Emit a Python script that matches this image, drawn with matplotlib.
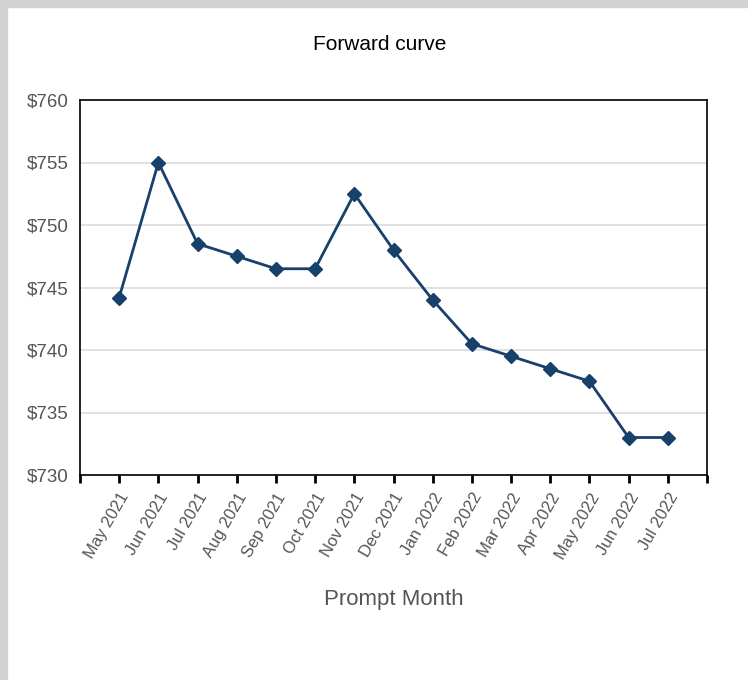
import matplotlib.pyplot as plt
from matplotlib.patches import Rectangle

plt.rcParams['font.family'] = ['Liberation Sans', 'DejaVu Sans']

# --- data ---
months = ['May 2021', 'Jun 2021', 'Jul 2021', 'Aug 2021', 'Sep 2021', 'Oct 2021',
          'Nov 2021', 'Dec 2021', 'Jan 2022', 'Feb 2022', 'Mar 2022', 'Apr 2022',
          'May 2022', 'Jun 2022', 'Jul 2022']
prices = [744.2, 755.0, 748.5, 747.5, 746.5, 746.5, 752.5, 748.0, 744.0,
          740.5, 739.5, 738.5, 737.5, 733.0, 733.0]
y_ticks = [730, 735, 740, 745, 750, 755, 760]

fig = plt.figure(figsize=(7.48, 6.8), dpi=100)
W, H = 748, 680

# grey frame on top and left like the screenshot
fig.patches.append(Rectangle((0, 1 - 7 / H), 1, 7 / H, transform=fig.transFigure,
                             color='#d3d3d3', zorder=0))
fig.patches.append(Rectangle((0, 0), 7 / W, 1, transform=fig.transFigure,
                             color='#d3d3d3', zorder=0))

ax = fig.add_axes([80 / W, 1 - 475 / H, (707 - 80) / W, (475 - 100) / H])

x = list(range(1, len(months) + 1))
ax.plot(x, prices, color='#17406b', linewidth=2, marker='D', markersize=7.5,
        zorder=3)

ax.set_xlim(0, len(months) + 1)
ax.set_ylim(730, 760)
ax.set_yticks(y_ticks)
ax.set_yticklabels([f'${v}' for v in y_ticks], color='#555555', fontsize=13.5)
ax.tick_params(axis='y', length=0, pad=8)

ax.set_xticks(range(0, len(months) + 2))
ax.set_xticklabels([''] + months + [''], rotation=60, ha='right',
                   rotation_mode='anchor', color='#555555', fontsize=12)
ax.tick_params(axis='x', length=6, width=2, direction='out', pad=5)

ax.grid(axis='y', color='#dcdcdc', linewidth=1.2)
ax.set_axisbelow(True)
for s in ax.spines.values():
    s.set_linewidth(1.2)
    s.set_color('black')

ax.set_xlabel('Prompt Month', fontsize=16, color='#555555', labelpad=20)
fig.text(380 / W, 1 - 44 / H, 'Forward curve', ha='center', va='center',
         fontsize=15, color='black')

fig.savefig('out.png', dpi=100)
